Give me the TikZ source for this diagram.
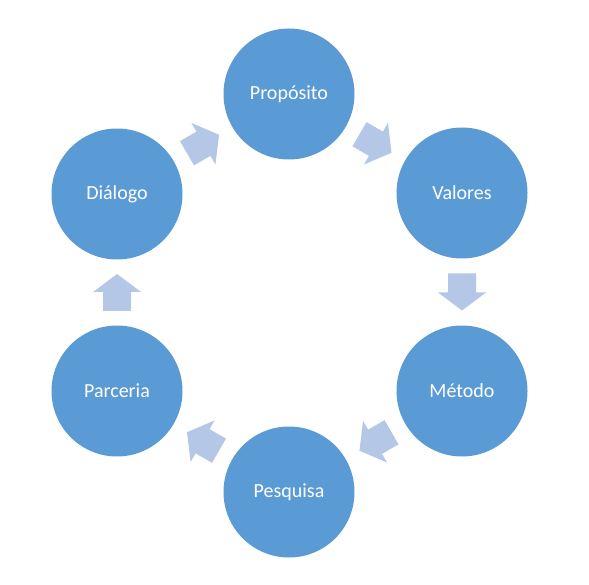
\documentclass[tikz,border=0pt]{standalone}
\usepackage{fontspec}
\setmainfont{Carlito}
\usetikzlibrary{calc}
\definecolor{circ}{HTML}{5B9BD5}
\definecolor{arr}{HTML}{B4C7E7}
\tikzset{
  stage/.style={circle, fill=circ, draw=none, minimum size=131pt, inner sep=0pt,
    text=white, font=\fontsize{20}{24}\selectfont},
  blockarrow/.style={fill=arr, draw=none},
}
\newcommand{\blockarr}[2]{%
  \fill[blockarrow, shift={(#1)}, rotate=#2]
    (-18.5,-14) -- (0.5,-14) -- (0.5,-24) -- (18.5,0) -- (0.5,24) -- (0.5,14) -- (-18.5,14) -- cycle;}
\begin{document}
\begin{tikzpicture}[x=1pt,y=-1pt]
\useasboundingbox (0,0) rectangle (589,585);
\node[stage] (pro) at (289,94) {Propósito};
\node[stage] (val) at (462,193) {Valores};
\node[stage] (met) at (462,391) {Método};
\node[stage] (pes) at (289,492) {Pesquisa};
\node[stage] (par) at (117,391) {Parceria};
\node[stage] (dia) at (117,194) {Diálogo};
\coordinate (m1) at ($(dia)!0.5!(pro)$);
\coordinate (m2) at ($(pro)!0.5!(val)$);
\coordinate (m3) at ($(val)!0.5!(met)$);
\coordinate (m4) at ($(met)!0.5!(pes)$);
\coordinate (m5) at ($(pes)!0.5!(par)$);
\coordinate (m6) at ($(par)!0.5!(dia)$);
\blockarr{m1}{30}
\blockarr{m2}{-30}
\blockarr{m3}{-90}
\blockarr{m4}{-150}
\blockarr{m5}{150}
\blockarr{m6}{90}
\end{tikzpicture}
\end{document}
